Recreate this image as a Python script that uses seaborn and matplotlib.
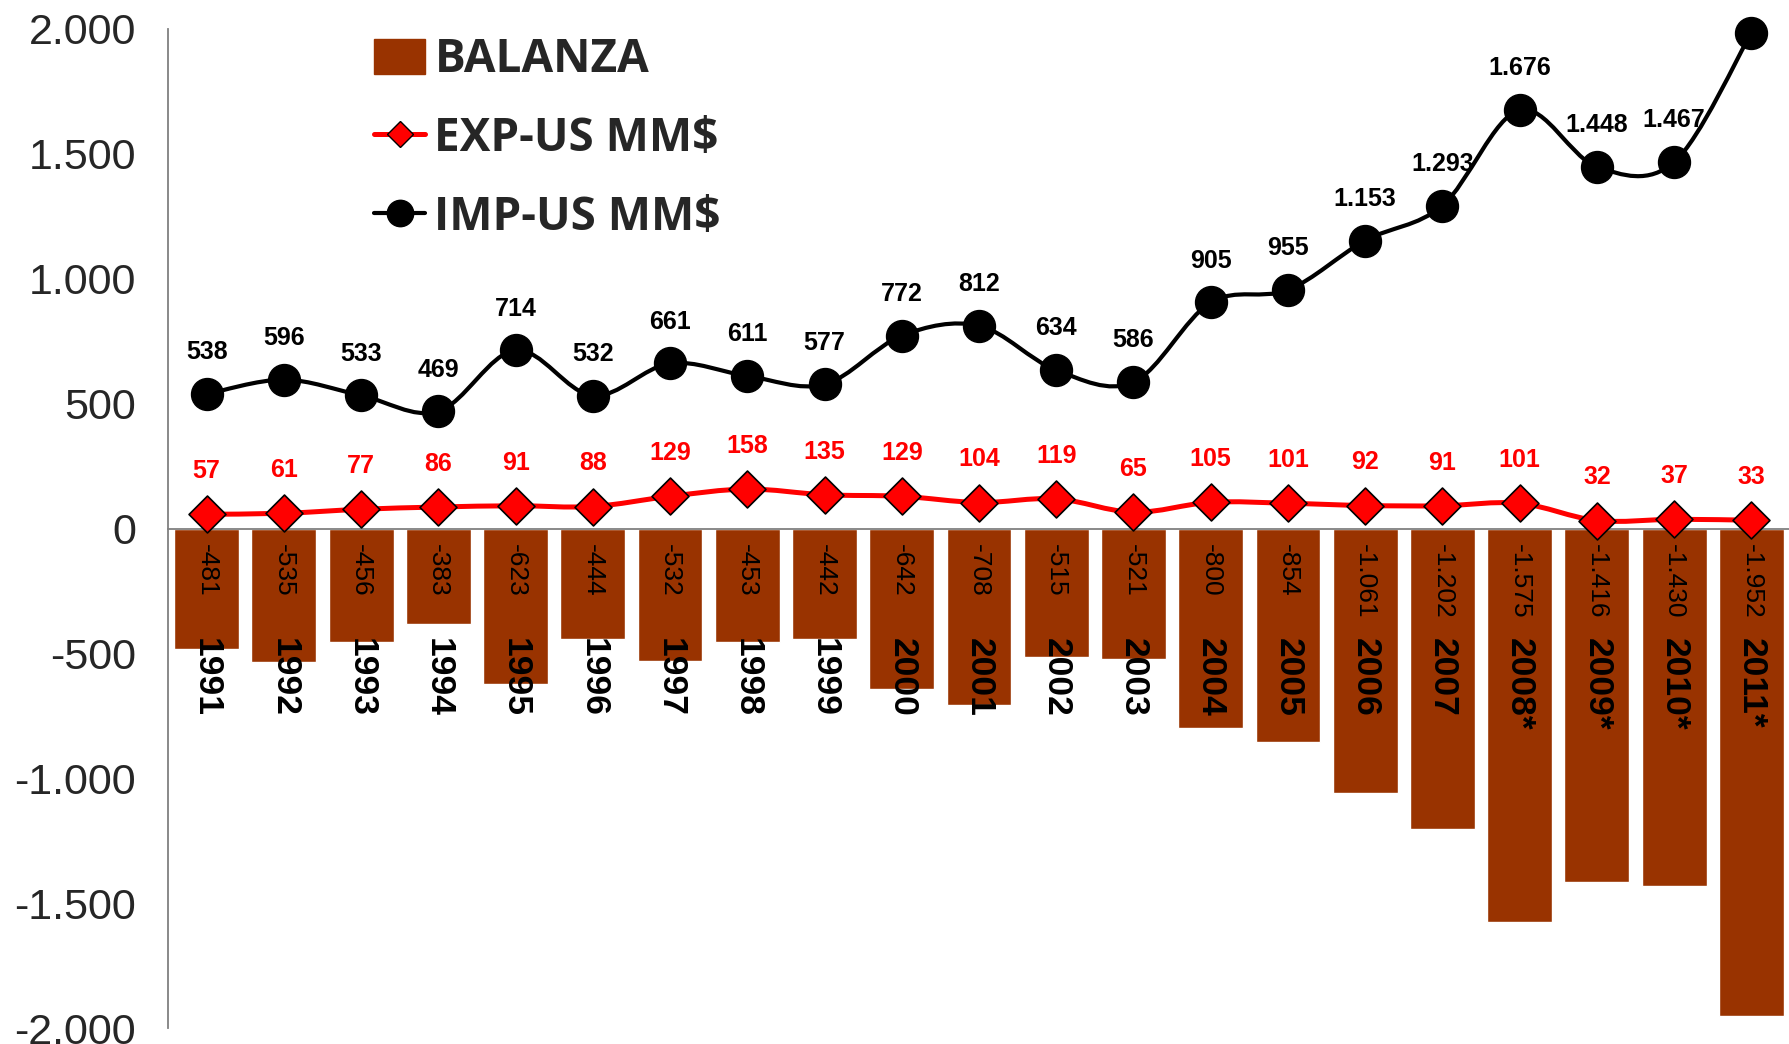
import numpy as np
import pandas as pd
import matplotlib
matplotlib.use("Agg")
import matplotlib.pyplot as plt
from matplotlib.path import Path
from matplotlib.patches import PathPatch, Patch
from matplotlib.lines import Line2D
import seaborn as sns

# ---------------- data ----------------
years = ["1991", "1992", "1993", "1994", "1995", "1996", "1997", "1998", "1999",
         "2000", "2001", "2002", "2003", "2004", "2005", "2006", "2007",
         "2008*", "2009*", "2010*", "2011*"]
exp_us = [57, 61, 77, 86, 91, 88, 129, 158, 135, 129, 104, 119, 65, 105, 101,
          92, 91, 101, 32, 37, 33]
imp_us = [538, 596, 533, 469, 714, 532, 661, 611, 577, 772, 812, 634, 586, 905,
          955, 1153, 1293, 1676, 1448, 1467, 1985]
balanza = [-481, -535, -456, -383, -623, -444, -532, -453, -442, -642, -708,
           -515, -521, -800, -854, -1061, -1202, -1575, -1416, -1430, -1952]
y_ticks = [-2000, -1500, -1000, -500, 0, 500, 1000, 1500, 2000]

df = pd.DataFrame({"year": years, "pos": np.arange(len(years)),
                   "exp": exp_us, "imp": imp_us, "bal": balanza})

BROWN = "#993300"
RED = "#FF0000"
GRAY = "#808080"

sns.set_style("white")
plt.rcParams["font.family"] = ["Liberation Sans", "DejaVu Sans"]
plt.rcParams["axes.axisbelow"] = False


def fmt(v):
    s = f"{abs(int(v)):,}".replace(",", ".")
    return ("-" if v < 0 else "") + s


def smooth_path(xs, ys):
    pts = np.column_stack([xs, ys]).astype(float)
    n = len(pts)
    verts = [pts[0]]
    codes = [Path.MOVETO]
    for i in range(n - 1):
        p0 = pts[i - 1] if i > 0 else pts[i]
        p1 = pts[i]
        p2 = pts[i + 1]
        p3 = pts[i + 2] if i + 2 < n else pts[i + 1]
        c1 = p1 + (p2 - p0) / 6.0
        c2 = p2 - (p3 - p1) / 6.0
        verts += [c1, c2, p2]
        codes += [Path.CURVE4] * 3
    return Path(verts, codes)


fig = plt.figure(figsize=(17.9, 10.44), dpi=100)
ax = fig.add_axes([168 / 1790, 16 / 1044, 1 - 168 / 1790, 999 / 1044])

# bars
sns.barplot(data=df, x="year", y="bal", color=BROWN, saturation=1,
            width=0.84, ax=ax, zorder=1)

# smoothed lines
ax.add_patch(PathPatch(smooth_path(df["pos"], df["exp"]), fill=False,
                       edgecolor=RED, lw=3.6, zorder=2, capstyle="round"))
ax.add_patch(PathPatch(smooth_path(df["pos"], df["imp"]), fill=False,
                       edgecolor="black", lw=3.0, zorder=2, capstyle="round"))

# markers
sns.scatterplot(data=df, x="pos", y="exp", marker="D", s=18.8 ** 2,
                color=RED, edgecolor="black", linewidth=1.2, ax=ax, zorder=3,
                legend=False)
sns.scatterplot(data=df, x="pos", y="imp", marker="o", s=23 ** 2,
                color="black", edgecolor="black", linewidth=1, ax=ax, zorder=3,
                legend=False, clip_on=False)

# data labels
for i, (yr, e, m, b) in enumerate(zip(years, exp_us, imp_us, balanza)):
    ax.annotate(fmt(e), (i, e), xytext=(0, 31), textcoords="offset points",
                ha="center", va="center", color=RED, fontsize=18,
                fontweight="bold", zorder=5)
    if m < 1900:
        ax.annotate(fmt(m), (i, m), xytext=(0, 30), textcoords="offset points",
                    ha="center", va="center", color="black", fontsize=18,
                    fontweight="bold", zorder=5)
    ax.annotate(fmt(b), (i, 0), xytext=(0, -11), textcoords="offset points",
                ha="center", va="top", rotation=270, color="black",
                fontsize=19, zorder=5)
    # category (year) labels
    ax.annotate(yr, (i, 0), xytext=(0, -78.5), textcoords="offset points",
                ha="center", va="top", rotation=270, color="black",
                fontsize=25.5, fontweight="bold", zorder=6)

# axes styling
ax.set_xlim(-0.5, len(years) - 0.5)
ax.set_ylim(-2000, 2000)
ax.set_yticks(y_ticks)
ax.set_yticklabels([fmt(v) for v in y_ticks], fontsize=31)
ax.set_xticks(np.arange(-0.5, len(years), 1.0))
ax.set_xticklabels([])
ax.tick_params(axis="x", which="major", length=7, width=1.2, color=GRAY,
               direction="out")
ax.tick_params(axis="y", which="major", length=9, width=1.2, color=GRAY,
               direction="out", pad=14)
ax.set_xlabel("")
ax.set_ylabel("")
for s in ["top", "right"]:
    ax.spines[s].set_visible(False)
ax.spines["bottom"].set_position(("data", 0))
ax.spines["bottom"].set_color(GRAY)
ax.spines["bottom"].set_linewidth(1.3)
ax.spines["left"].set_color(GRAY)
ax.spines["left"].set_linewidth(1.3)
ax.grid(False)

# legend
handles = [
    Patch(facecolor=BROWN, edgecolor=BROWN),
    Line2D([], [], color=RED, lw=3.6, marker="D", markersize=13.2,
           markerfacecolor=RED, markeredgecolor="black", markeredgewidth=1),
    Line2D([], [], color="black", lw=3, marker="o", markersize=19,
           markerfacecolor="black", markeredgecolor="black"),
]
labels = ["BALANZA", "EXP-US MM$", "IMP-US MM$"]
leg = fig.legend(handles, labels, loc="upper left",
                 bbox_to_anchor=(374 / 1790, 1 - 36 / 1044),
                 frameon=False, borderpad=0, borderaxespad=0,
                 handlelength=1.12, handleheight=0.8, handletextpad=0.2,
                 labelspacing=0.7,
                 prop={"family": ["Open Sans", "DejaVu Sans"],
                       "weight": "bold", "size": 33})

fig.savefig("out.png", dpi=100)
